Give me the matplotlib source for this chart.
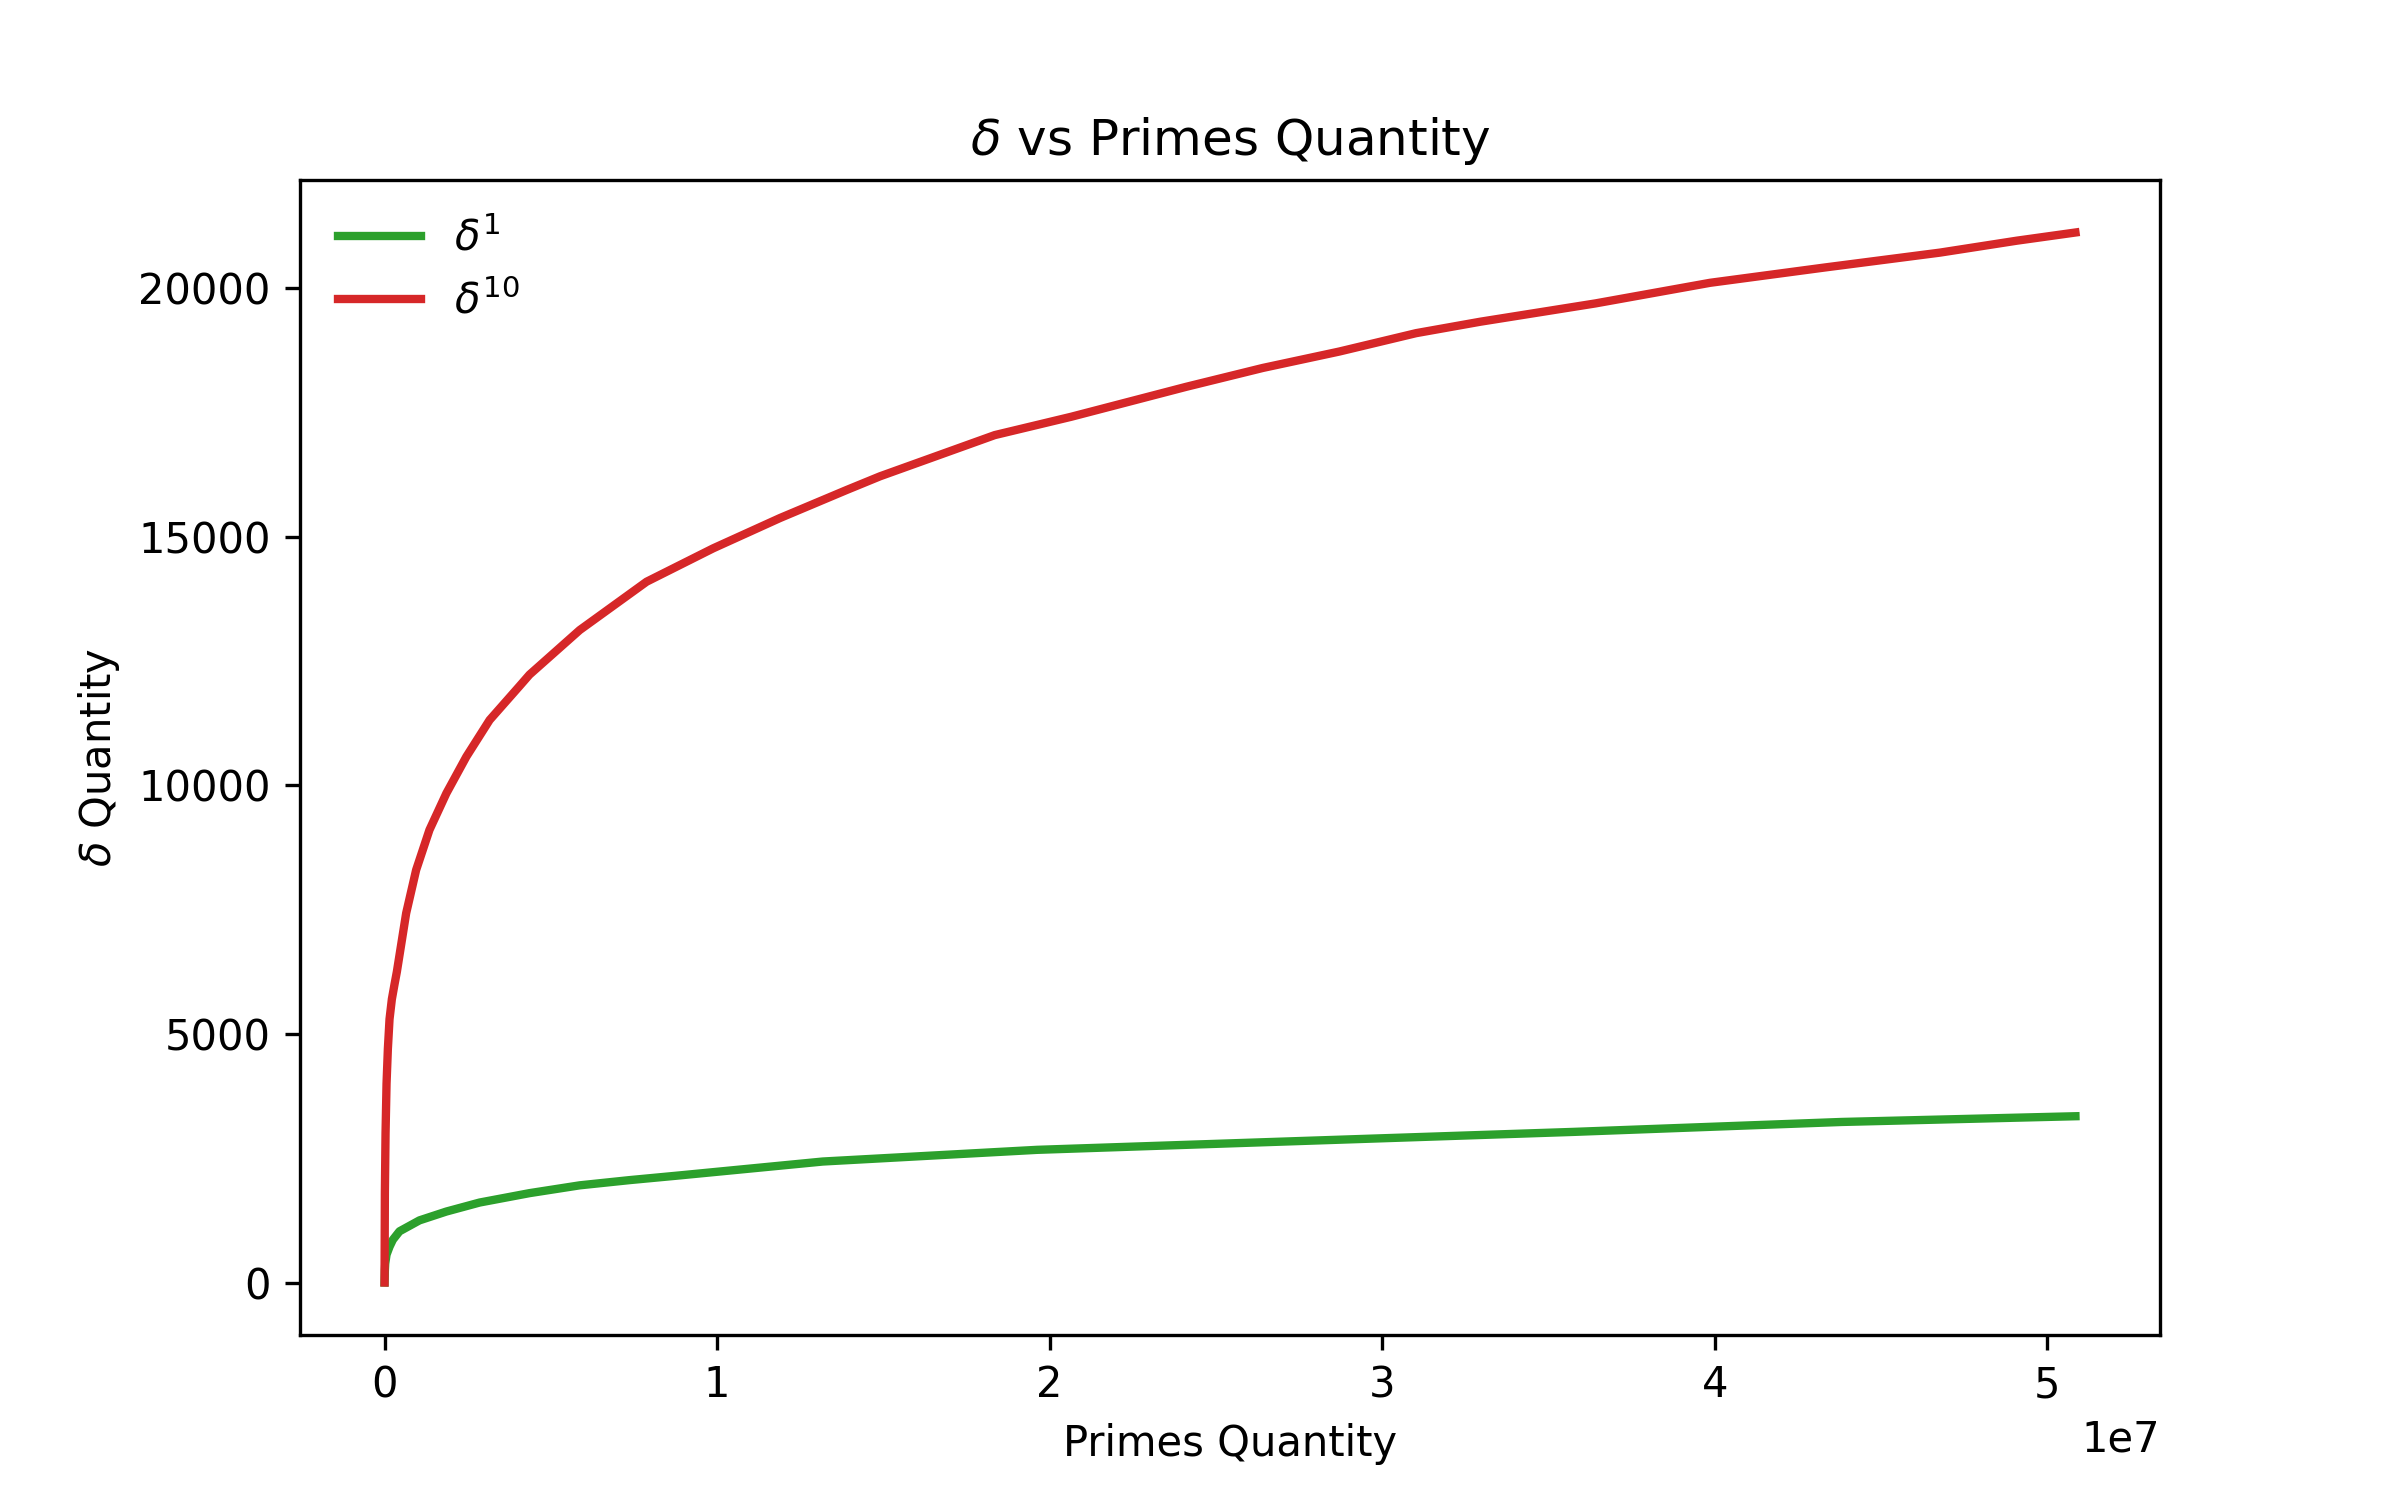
import matplotlib
matplotlib.use("Agg")
import matplotlib.pyplot as plt

# delta^1 series
x_d1 = [0, 1e4, 2e4, 6e4, 1.5e5, 2.5e5, 4.5e5, 1.05e6, 1.86e6, 2.86e6, 4.36e6, 5.87e6,
        7.37e6, 8.88e6, 1.318e7, 1.962e7, 2.769e7, 3.575e7, 4.382e7, 50847534]
y_d1 = [0, 250, 380, 560, 720, 860, 1030, 1250, 1428, 1609, 1798, 1955,
        2060, 2155, 2434, 2669, 2850, 3030, 3230, 3345]

# delta^10 series
x_d10 = [0, 1e4, 3e4, 6e4, 1e5, 1.5e5, 2.2e5, 3e5, 3.7e5, 6.5e5, 9.5e5, 1.35e6,
         1.86e6, 2.46e6, 3.16e6, 4.06e6, 4.36e6, 5.87e6, 7.88e6, 9.88e6, 1.189e7,
         1.389e7, 1.49e7, 1.835e7, 2.065e7, 2.411e7, 2.641e7, 2.871e7, 3.102e7,
         3.295e7, 3.641e7, 3.986e7, 4.332e7, 4.677e7, 4.908e7, 50847534]
y_d10 = [0, 1800, 3000, 4000, 4700, 5300, 5700, 6000, 6250, 7430, 8300, 9105,
         9843, 10579, 11317, 12000, 12230, 13127, 14099, 14770, 15380,
         15943, 16220, 17049, 17418, 18021, 18400, 18730, 19100,
         19330, 19698, 20113, 20422, 20720, 20960, 21125]

fig, ax = plt.subplots(figsize=(8, 5), dpi=300)
ax.plot(x_d1, y_d1, color="tab:green", linewidth=2, label=r"$\delta^1$")
ax.plot(x_d10, y_d10, color="tab:red", linewidth=2, label=r"$\delta^{10}$")
ax.set_title(r"$\delta$ vs Primes Quantity")
ax.set_xlabel("Primes Quantity")
ax.set_ylabel(r"$\delta$ Quantity")
ax.legend(loc="upper left", frameon=False)
fig.savefig("out.png", dpi=300)
